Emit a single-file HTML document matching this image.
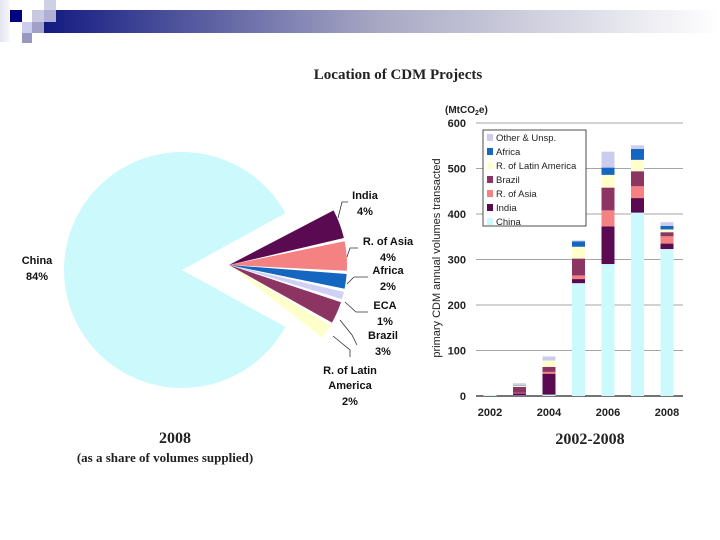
<!DOCTYPE html>
<html><head><meta charset="utf-8"><style>
body{margin:0;width:720px;height:540px;background:#fff;overflow:hidden;font-family:"Liberation Sans",sans-serif}
svg{position:absolute;left:0;top:0}
</style></head><body>
<svg width="720" height="540">
<defs><linearGradient id="hg" x1="0" x2="1"><stop offset="0" stop-color="#101880"/><stop offset="0.5" stop-color="#a8a8c4"/><stop offset="1" stop-color="#ffffff"/></linearGradient>
<linearGradient id="lg" x1="0" x2="1"><stop offset="0" stop-color="#e4e4f0"/><stop offset="1" stop-color="#f8f8fc"/></linearGradient></defs>
<g>
<rect x="0" y="0" width="10" height="42" fill="url(#lg)"/>
<rect x="38" y="10" width="682" height="23" fill="url(#hg)"/>
<rect x="10" y="10" width="12" height="12" fill="#000080"/>
<rect x="32" y="10" width="12" height="12" fill="#c8c8e0"/>
<rect x="44" y="0" width="12" height="10" fill="#d0d0e4"/>
<rect x="44" y="10" width="12" height="12" fill="#b0b0d4"/>
<rect x="22" y="22" width="10" height="11" fill="#ccccee"/>
<rect x="32" y="22" width="12" height="11" fill="#a0a0c8"/>
<rect x="22" y="33" width="10" height="10" fill="#9898c0"/>
</g>
<text x="398" y="79" text-anchor="middle" font-family="Liberation Serif,serif" font-weight="bold" font-size="15" fill="#222">Location of CDM Projects</text>
<g id="pie"></g>
<g id="pielabels" font-size="11" font-weight="bold" fill="#111" text-anchor="middle">
<text x="37" y="264">China</text><text x="37" y="280">84%</text>
<text x="365" y="199">India</text><text x="365" y="215">4%</text>
<text x="388" y="245">R. of Asia</text><text x="388" y="261">4%</text>
<text x="388" y="274">Africa</text><text x="388" y="290">2%</text>
<text x="385" y="309">ECA</text><text x="385" y="325">1%</text>
<text x="383" y="339">Brazil</text><text x="383" y="355">3%</text>
<text x="350" y="374">R. of Latin</text><text x="350" y="389">America</text><text x="350" y="405">2%</text>
</g>
<g stroke="#333" stroke-width="0.8" fill="none">
<path d="M338 218 L342 202 L348 202"/><path d="M347 257 L350 248 L358 248"/><path d="M347 284 L354 277 L368 277"/>
<path d="M345 302 L356 312 L368 312"/><path d="M340 320 L352 335 L357 345"/><path d="M333 336 L350 350 L350 357"/>
</g>
<text x="175" y="443" text-anchor="middle" font-family="Liberation Serif,serif" font-weight="bold" font-size="16" fill="#222">2008</text>
<text x="165" y="462" text-anchor="middle" font-family="Liberation Serif,serif" font-weight="bold" font-size="13" fill="#222">(as a share of volumes supplied)</text>
<g id="bar"></g>
<text x="590" y="444" text-anchor="middle" font-family="Liberation Serif,serif" font-weight="bold" font-size="16" fill="#222">2002-2008</text>
<text x="445" y="113" font-size="10" font-weight="bold" fill="#222">(MtCO<tspan font-size="7" dy="2">2</tspan><tspan dy="-2">e)</tspan></text>
<text transform="translate(440,258) rotate(-90)" text-anchor="middle" font-size="11" fill="#222">primary CDM annual volumes transacted</text>
</svg>
<script>
const pieLabels=["China","India","R. of Asia","Africa","ECA","Brazil","R. of Latin America"];
const pieValues=[84,4,4,2,1,3,2];
const pieColors=["#ccfafc","#5a0a50","#f48282","#1466c0","#d0d0f4","#8c3462","#ffffcc"];
const years=["2002","2003","2004","2005","2006","2007","2008"];
const seriesNames=["China","India","R. of Asia","Brazil","R. of Latin America","Africa","Other & Unsp."];
const sChina=[2,1,3,248,290,403,323];
const sIndia=[0,5,46,9,83,32,12];
const sAsia=[0,1,4,8,35,26,16];
const sBrazil=[0,13,11,37,50,33,9];
const sLatAm=[1,3,14,26,28,25,6];
const sAfrica=[0,1,0,12,16,24,8];
const sOther=[0,4,9,2,35,8,8];
const yTicks=[0,100,200,300,400,500,600];
const xTickLabels=["2002","2004","2006","2008"];
const barColors=["#ccfafc","#5a0a50","#f48282","#8c3462","#ffffcc","#1466c0","#ccccee"];
const NS="http://www.w3.org/2000/svg";
function mk(p,t,a){const e=document.createElementNS(NS,t);for(const k in a)e.setAttribute(k,a[k]);p.appendChild(e);return e;}
const pie=document.getElementById('pie');
const total=pieValues.reduce((a,b)=>a+b,0);
const R=118,cx=182,cy=270;
const others=total-pieValues[0];
const start=-28.8;
function arcPath(x,y,r,a0,a1){const t=Math.PI/180;const x0=x+r*Math.cos(a0*t),y0=y+r*Math.sin(a0*t),x1=x+r*Math.cos(a1*t),y1=y+r*Math.sin(a1*t);const lg=(a1-a0)>180?1:0;return `M${x} ${y} L${x0} ${y0} A${r} ${r} 0 ${lg} 1 ${x1} ${y1} Z`;}
const chinaStart=start+others/total*360;
let p=mk(pie,'path',{d:arcPath(cx,cy,R,chinaStart,start+360),fill:pieColors[0]});


// exploded slices fanned out with gaps
const gap=1.6;
let a=-27.6;
for(let i=1;i<pieValues.length;i++){
  const sw=pieValues[i]/total*360;
  const s=mk(pie,'path',{d:arcPath(229,265,R,a,a+sw),fill:pieColors[i]});
  
  
  a+=sw+gap;
}
const bar=document.getElementById('bar');
const x0=476,x1=683,yb=396,yt=123;
const ys=v=>yb-(v/600)*(yb-yt);
const xs=i=>490+i*29.5;
yTicks.forEach(t=>{
  const l=mk(bar,'line',{x1:x0,x2:x1,y1:ys(t),y2:ys(t),stroke:t===0?'#222':'#888','stroke-width':t===0?1.2:0.8});
  
  
  const tx=mk(bar,'text',{x:466,y:ys(t)+4,'text-anchor':'end','font-size':11,'font-weight':'bold',fill:'#222'});
  tx.textContent=t;
  
  
});
xTickLabels.forEach(lb=>{
  const i=years.indexOf(lb);
  const tx=mk(bar,'text',{x:xs(i),y:416,'text-anchor':'middle','font-size':11,'font-weight':'bold',fill:'#222'});
  tx.textContent=lb;
  
  
});
const series=[sChina,sIndia,sAsia,sBrazil,sLatAm,sAfrica,sOther];
years.forEach((y,i)=>{
  let acc=0;
  series.forEach((s,k)=>{
    const v=s[i];if(v<=0)return;
    const r=mk(bar,'rect',{x:xs(i)-6.5,y:ys(acc+v),width:13,height:ys(acc)-ys(acc+v),fill:barColors[k]});
    
    
    acc+=v;
  });
});
const lg=mk(bar,'g',{});


mk(lg,'rect',{x:483,y:130,width:103,height:96,fill:'#fff',stroke:'#222','stroke-width':0.8});
for(let j=0;j<7;j++){
  const k=6-j;
  const yy=138+j*14;
  const g=mk(lg,'g',{});
  
  
  mk(g,'rect',{x:487,y:yy-4,width:6,height:7,fill:barColors[k]});
  const t=mk(g,'text',{x:496,y:yy+3,'font-size':9.5,fill:'#222'});
  t.textContent=seriesNames[k];
}
</script>
</body></html>
